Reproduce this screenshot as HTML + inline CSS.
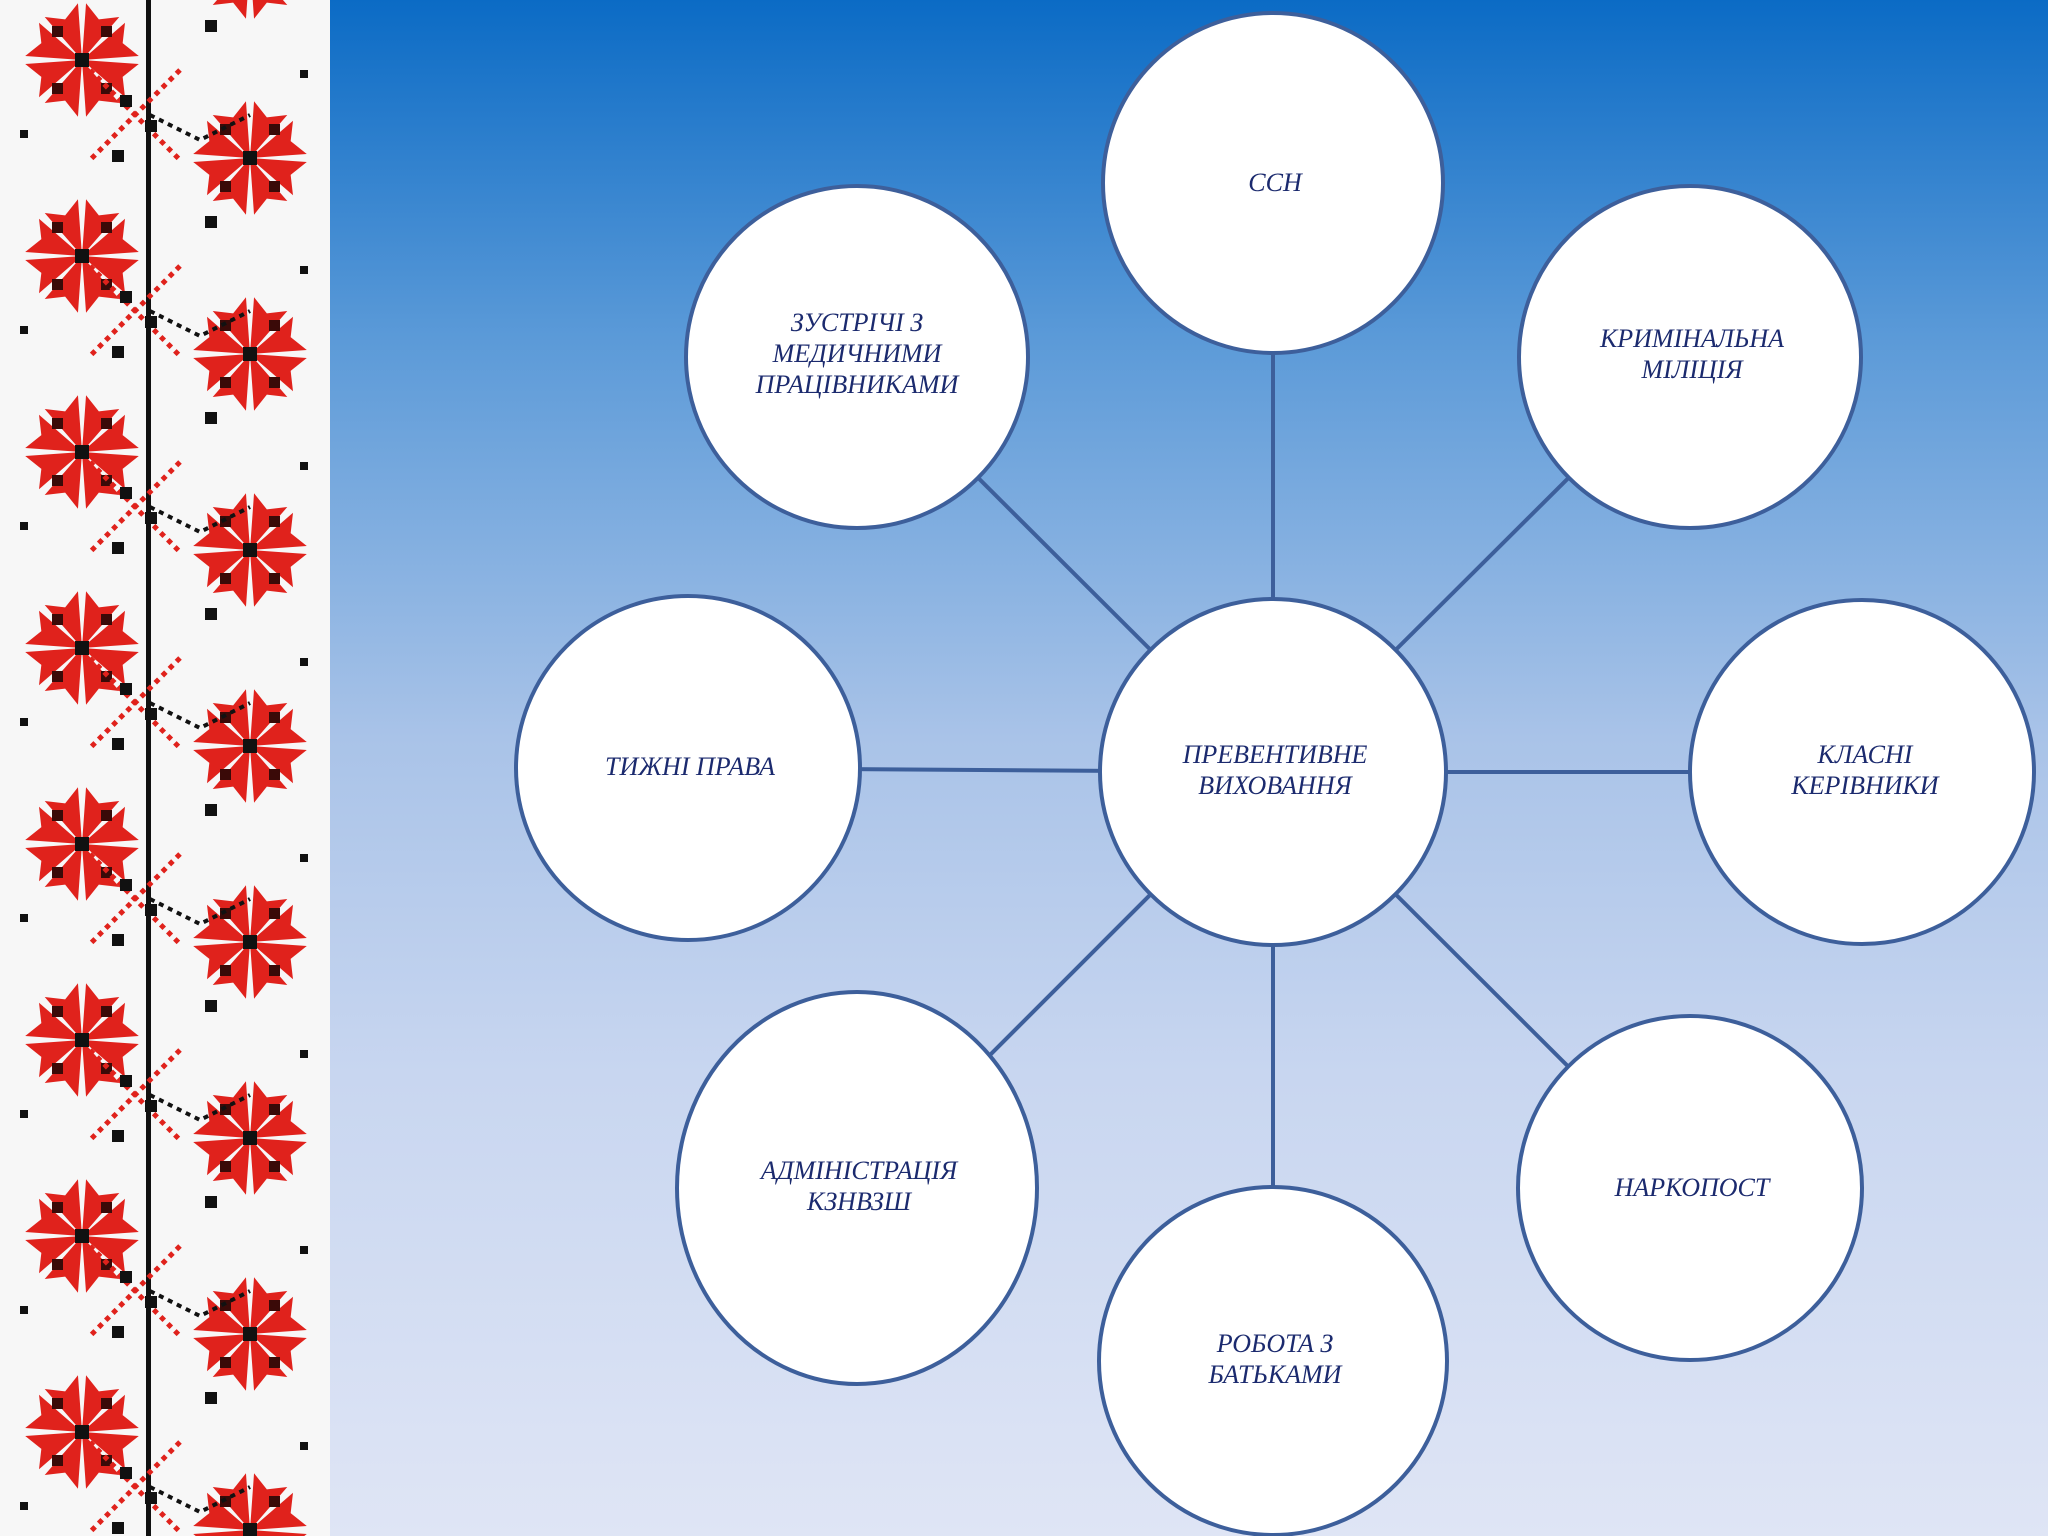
<!DOCTYPE html>
<html><head><meta charset="utf-8"><style>
html,body{margin:0;padding:0;}
body{width:2048px;height:1536px;overflow:hidden;position:relative;background:linear-gradient(to bottom,#0b6bc5 0%,#5b9ad8 22%,#a9c3e8 48%,#c8d6f0 70%,#dfe5f5 100%);font-family:"Liberation Serif",serif;}
#strip{position:absolute;left:0;top:0;width:330px;height:1536px;background:#f7f7f7;}
svg{position:absolute;left:0;top:0;}
.t{font-family:"Liberation Serif",serif;font-style:italic;font-size:26px;fill:#1b2a6e;text-anchor:middle;}
</style></head><body>
<div id="strip"><svg width="330" height="1536">
<defs>
<path id="pet" d="M0,0 L-18,-54 L0,-44 L18,-54 Z" fill="#e0221c"/>
<g id="star">
<use href="#pet" transform="rotate(22.5)"/>
<use href="#pet" transform="rotate(67.5)"/>
<use href="#pet" transform="rotate(112.5)"/>
<use href="#pet" transform="rotate(157.5)"/>
<use href="#pet" transform="rotate(202.5)"/>
<use href="#pet" transform="rotate(247.5)"/>
<use href="#pet" transform="rotate(292.5)"/>
<use href="#pet" transform="rotate(337.5)"/>
<g fill="#3a0a08"><rect x="-30" y="-34" width="11" height="11"/><rect x="19" y="-34" width="11" height="11"/><rect x="-30" y="23" width="11" height="11"/><rect x="19" y="23" width="11" height="11"/><rect x="-7" y="-7" width="14" height="14" fill="#111"/></g>
</g>
<pattern id="p" width="330" height="196" patternUnits="userSpaceOnUse">
<rect width="330" height="196" fill="#f7f7f7"/>
<rect x="146" y="0" width="5" height="196" fill="#111"/>
<use href="#star" x="82" y="60"/>
<use href="#star" x="250" y="158"/>
<use href="#star" x="250" y="-38"/>
<path d="M90,70 L180,160 M180,70 L90,160" stroke="#e0221c" stroke-width="5" stroke-dasharray="5 5"/>
<path d="M150,115 L200,140 L250,115" stroke="#111" stroke-width="4" stroke-dasharray="5 5" fill="none"/>
<g fill="#111"><rect x="120" y="95" width="12" height="12"/><rect x="145" y="120" width="12" height="12"/><rect x="112" y="150" width="12" height="12"/><rect x="20" y="130" width="8" height="8"/><rect x="300" y="70" width="8" height="8"/><rect x="205" y="20" width="12" height="12"/></g>
</pattern>
</defs>
<rect width="330" height="1536" fill="url(#p)"/>
</svg></div>
<svg width="2048" height="1536">
<g stroke="#3d5f9b" stroke-width="4">
<line x1="1273" y1="772" x2="1273" y2="183"/>
<line x1="1273" y1="772" x2="857" y2="357"/>
<line x1="1273" y1="772" x2="1690" y2="357"/>
<line x1="1273" y1="772" x2="688" y2="768"/>
<line x1="1273" y1="772" x2="1862" y2="772"/>
<line x1="1273" y1="772" x2="857" y2="1188"/>
<line x1="1273" y1="772" x2="1690" y2="1188"/>
<line x1="1273" y1="772" x2="1273" y2="1361"/>
</g>
<g fill="#fff" stroke="#3d5f9b" stroke-width="4">
<circle cx="1273" cy="183" r="170"/>
<circle cx="857" cy="357" r="171"/>
<circle cx="1690" cy="357" r="171"/>
<circle cx="688" cy="768" r="172"/>
<circle cx="1273" cy="772" r="173"/>
<circle cx="1862" cy="772" r="172"/>
<ellipse cx="857" cy="1188" rx="180" ry="196"/>
<circle cx="1690" cy="1188" r="172"/>
<circle cx="1273" cy="1361" r="174"/>
</g>
<text class="t" x="1275" y="191">ССН</text>
<text class="t" x="857" y="331">ЗУСТРІЧІ З</text>
<text class="t" x="857" y="362">МЕДИЧНИМИ</text>
<text class="t" x="857" y="393">ПРАЦІВНИКАМИ</text>
<text class="t" x="1692" y="347">КРИМІНАЛЬНА</text>
<text class="t" x="1692" y="378">МІЛІЦІЯ</text>
<text class="t" x="690" y="775">ТИЖНІ ПРАВА</text>
<text class="t" x="1275" y="763">ПРЕВЕНТИВНЕ</text>
<text class="t" x="1275" y="794">ВИХОВАННЯ</text>
<text class="t" x="1865" y="763">КЛАСНІ</text>
<text class="t" x="1865" y="794">КЕРІВНИКИ</text>
<text class="t" x="859" y="1179">АДМІНІСТРАЦІЯ</text>
<text class="t" x="859" y="1210">КЗНВЗШ</text>
<text class="t" x="1692" y="1196">НАРКОПОСТ</text>
<text class="t" x="1275" y="1352">РОБОТА З</text>
<text class="t" x="1275" y="1383">БАТЬКАМИ</text>
</svg>
</body></html>
